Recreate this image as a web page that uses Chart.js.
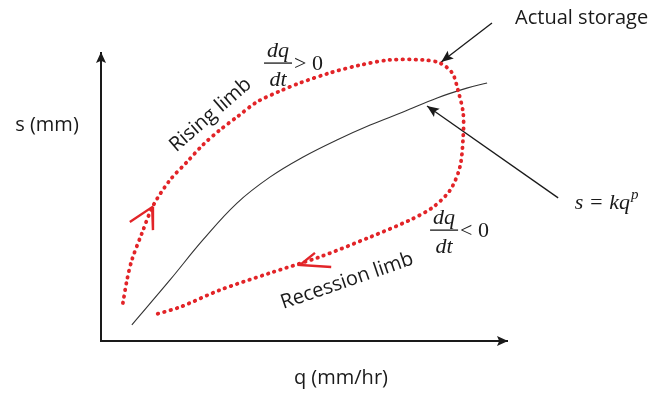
<!DOCTYPE html>
<html>
<head>
<meta charset="utf-8">
<script src="https://cdn.jsdelivr.net/npm/chart.js@4/dist/chart.umd.min.js"></script>
<style>
  html, body { margin: 0; padding: 0; background: #fff; }
  canvas { display: block; }
</style>
</head>
<body>
<canvas id="c" width="664" height="394"></canvas>
<script>
// Storage s against discharge q over one event: the loop runs up the rising limb
// and back down the recession limb.
const loopQ = [0.54, 0.64, 0.76, 1.01, 1.28, 1.70, 2.12, 2.51, 2.93, 3.35, 3.84, 4.41, 4.90, 5.64, 6.38, 7.12,
               7.93, 8.35, 8.65, 8.79, 8.92, 8.92, 8.84, 8.60, 8.18, 7.61, 6.63, 5.39, 4.16, 2.93, 1.95, 1.28];
const loopS = [1.32, 2.12, 2.81, 3.75, 4.69, 5.59, 6.22, 6.81, 7.33, 7.78, 8.30, 8.68, 8.96, 9.31, 9.58, 9.76,
               9.76, 9.65, 9.31, 8.72, 7.92, 7.08, 6.04, 5.24, 4.65, 4.20, 3.61, 2.92, 2.36, 1.77, 1.18, 0.90];

// Single-valued power law s = k q^p
const powerQ = [0.76, 1.70, 2.51, 3.35, 4.16, 4.98, 5.81, 6.63, 7.44, 8.28, 9.01, 9.51];
const powerS = [0.56, 2.12, 3.51, 4.79, 5.69, 6.39, 6.98, 7.50, 7.95, 8.44, 8.78, 8.96];

// Direction chevrons on the loop: arm, tip, arm
const risingChevronQ = [0.71, 1.26, 1.28];
const risingChevronS = [4.13, 4.65, 3.85];
const recessionChevronQ = [5.27, 4.90, 5.67];
const recessionChevronS = [3.06, 2.64, 2.57];

// Callout pointers: tail, head
const storagePointerQ = [9.63, 8.38];
const storagePointerS = [11.04, 9.69];
const powerPointerQ = [11.26, 8.03];
const powerPointerS = [4.97, 8.16];

// Axis extent (arbitrary units, no ticks)
const qMax = 10;
const sMax = 10;

const pts = (xs, ys) => xs.map((x, i) => ({ x, y: ys[i] }));

const RED = 'rgb(226,36,40)';
const INK = '#1a1a1a';

function arrowHead(ctx, x, y, angle, len, half) {
  ctx.save();
  ctx.translate(x, y);
  ctx.rotate(angle);
  ctx.beginPath();
  ctx.moveTo(0, 0);
  ctx.lineTo(-len, -half);
  ctx.lineTo(-len * 0.8, 0);
  ctx.lineTo(-len, half);
  ctx.closePath();
  ctx.fill();
  ctx.restore();
}

function fraction(ctx, cx, cy, sign) {
  ctx.save();
  ctx.fillStyle = INK;
  ctx.strokeStyle = INK;
  ctx.textAlign = 'center';
  ctx.textBaseline = 'alphabetic';
  ctx.font = 'italic 22px "Liberation Serif"';
  ctx.fillText('dq', cx, cy - 6);
  ctx.fillText('dt', cx, cy + 23);
  ctx.lineWidth = 1.3;
  ctx.beginPath();
  ctx.moveTo(cx - 14, cy);
  ctx.lineTo(cx + 14, cy);
  ctx.stroke();
  ctx.font = '22px "Liberation Serif"';
  ctx.textAlign = 'left';
  ctx.textBaseline = 'middle';
  ctx.fillText(sign + ' 0', cx + 16, cy + 1);
  ctx.restore();
}

const decorations = {
  id: 'decorations',
  afterDraw(chart) {
    const { ctx, scales: { x, y } } = chart;
    const px = v => x.getPixelForValue(v);
    const py = v => y.getPixelForValue(v);
    ctx.save();
    ctx.fillStyle = INK;

    // axis arrowheads
    arrowHead(ctx, px(qMax) + 1, py(0), 0, 11, 5);
    arrowHead(ctx, px(0), py(sMax) - 1, -Math.PI / 2, 11, 5);

    // pointer heads, oriented along the pointer lines
    [2, 3].forEach(i => {
      const m = chart.getDatasetMeta(i).data;
      const a = m[0], b = m[1];
      arrowHead(ctx, b.x, b.y, Math.atan2(b.y - a.y, b.x - a.x), 12, 5);
    });

    // axis titles
    ctx.font = '20px "Open Sans"';
    ctx.textBaseline = 'middle';
    ctx.textAlign = 'center';
    ctx.fillText('q (mm/hr)', px(5.91), py(-1.28));
    ctx.fillText('s (mm)', px(-1.33), py(7.5));

    // callout labels
    ctx.textAlign = 'left';
    ctx.fillText('Actual storage', px(10.2), py(11.22));

    ctx.font = 'italic 22px "Liberation Serif"';
    const sx = px(11.67), sy = py(4.79);
    const body = 's = kq';
    ctx.fillText(body, sx, sy);
    const w = ctx.measureText(body).width;
    ctx.font = 'italic 15px "Liberation Serif"';
    ctx.fillText('p', sx + w + 1, sy - 8);

    // limb labels along the loop
    ctx.font = '20px "Open Sans"';
    ctx.textAlign = 'center';
    [['Rising limb', 2.70, 7.85, -41], ['Recession limb', 6.06, 2.08, -19]].forEach(([t, q, s, deg]) => {
      ctx.save();
      ctx.translate(px(q), py(s));
      ctx.rotate(deg * Math.PI / 180);
      ctx.fillText(t, 0, 0);
      ctx.restore();
    });

    // rate-of-change conditions
    fraction(ctx, px(4.36), py(9.65), '>');
    fraction(ctx, px(8.45), py(3.85), '<');

    ctx.restore();
  }
};

const hideScale = s => { if (s.isHorizontal()) s.height = 0; else s.width = 0; };

new Chart(document.getElementById('c'), {
  type: 'scatter',
  data: {
    datasets: [
      { data: pts(loopQ, loopS), showLine: true, borderColor: RED, borderWidth: 3.8,
        borderDash: [0.5, 6], borderCapStyle: 'round', tension: 0.3, pointRadius: 0 },
      { data: pts(powerQ, powerS), showLine: true, borderColor: '#333', borderWidth: 1.1,
        tension: 0.4, pointRadius: 0 },
      { data: pts(storagePointerQ, storagePointerS), showLine: true, borderColor: INK, borderWidth: 1.3,
        pointRadius: 0, clip: false },
      { data: pts(powerPointerQ, powerPointerS), showLine: true, borderColor: INK, borderWidth: 1.3,
        pointRadius: 0, clip: false },
      { data: pts(risingChevronQ, risingChevronS), showLine: true, borderColor: RED, borderWidth: 2.4,
        pointRadius: 0, clip: false },
      { data: pts(recessionChevronQ, recessionChevronS), showLine: true, borderColor: RED, borderWidth: 2.4,
        pointRadius: 0, clip: false }
    ]
  },
  options: {
    responsive: false,
    animation: false,
    events: [],
    layout: { padding: { left: 101, right: 157, top: 53, bottom: 53 } },
    plugins: { legend: { display: false }, tooltip: { enabled: false } },
    scales: {
      x: { type: 'linear', min: 0, max: qMax, afterFit: hideScale,
           grid: { display: false }, ticks: { display: false },
           border: { display: true, color: INK, width: 2 } },
      y: { type: 'linear', min: 0, max: sMax, afterFit: hideScale,
           grid: { display: false }, ticks: { display: false },
           border: { display: true, color: INK, width: 2 } }
    }
  },
  plugins: [decorations]
});
</script>
</body>
</html>
